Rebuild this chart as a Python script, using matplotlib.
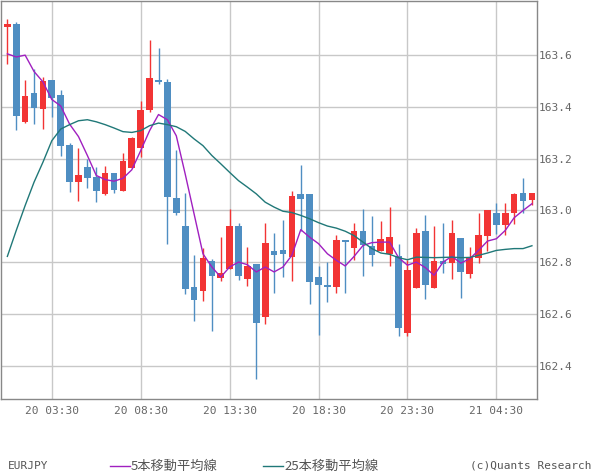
import numpy as np
import matplotlib
matplotlib.use('Agg')
import matplotlib.pyplot as plt
from matplotlib.lines import Line2D

plt.rcParams['font.family'] = ['DejaVu Sans Mono', 'Noto Sans CJK JP']

# EURJPY 30-minute candles, 20 01:00 .. 21 06:30
opens = [163.709, 163.719, 163.343, 163.454, 163.390, 163.504, 163.446, 163.254, 163.109, 163.169,
         163.131, 163.062, 163.146, 163.074, 163.163, 163.240, 163.386, 163.504, 163.496, 163.050,
         162.942, 162.705, 162.690, 162.804, 162.740, 162.774, 162.939, 162.736, 162.792, 162.590,
         162.842, 162.846, 162.821, 163.065, 163.062, 162.742, 162.712, 162.705, 162.885, 162.855,
         162.919, 162.864, 162.844, 162.832, 162.823, 162.528, 162.701, 162.919, 162.701, 162.804,
         162.797, 162.892, 162.755, 162.817, 162.901, 162.992, 162.944, 162.992, 163.069, 163.042]
highs = [163.740, 163.727, 163.504, 163.546, 163.515, 163.504, 163.465, 163.260, 163.240, 163.197,
         163.167, 163.173, 163.146, 163.223, 163.282, 163.423, 163.658, 163.627, 163.508, 163.235,
         163.067, 162.827, 162.856, 162.814, 162.897, 163.004, 162.951, 162.859, 162.792, 162.951,
         162.912, 162.962, 163.077, 163.177, 163.062, 162.786, 162.800, 162.904, 162.885, 162.950,
         163.004, 162.978, 162.958, 163.015, 162.869, 162.808, 162.931, 162.981, 162.942, 162.950,
         162.965, 162.892, 162.858, 162.992, 163.000, 163.030, 163.028, 163.067, 163.124, 163.069]
lows = [163.563, 163.309, 163.336, 163.332, 163.313, 163.359, 163.209, 163.070, 163.036, 163.086,
        163.032, 163.058, 163.067, 163.074, 163.163, 163.205, 163.378, 163.486, 162.870, 162.982,
        162.678, 162.574, 162.651, 162.536, 162.728, 162.774, 162.732, 162.709, 162.351, 162.563,
        162.682, 162.744, 162.728, 162.921, 162.640, 162.520, 162.647, 162.682, 162.682, 162.808,
        162.747, 162.786, 162.844, 162.786, 162.517, 162.517, 162.701, 162.659, 162.701, 162.759,
        162.736, 162.663, 162.740, 162.797, 162.843, 162.908, 162.907, 162.946, 162.990, 163.023]
closes = [163.719, 163.363, 163.442, 163.397, 163.500, 163.432, 163.247, 163.109, 163.136, 163.124,
          163.074, 163.146, 163.078, 163.192, 163.278, 163.389, 163.512, 163.494, 163.051, 162.991,
          162.697, 162.655, 162.815, 162.747, 162.760, 162.942, 162.747, 162.786, 162.567, 162.873,
          162.827, 162.831, 163.054, 163.044, 162.724, 162.713, 162.705, 162.885, 162.878, 162.921,
          162.867, 162.828, 162.889, 162.896, 162.547, 162.769, 162.913, 162.713, 162.804, 162.794,
          162.912, 162.763, 162.819, 162.904, 163.000, 162.944, 162.992, 163.063, 163.038, 163.069]

ma5 = [163.604, 163.592, 163.599, 163.536, 163.496, 163.428, 163.403, 163.333, 163.285, 163.212,
       163.135, 163.119, 163.113, 163.124, 163.157, 163.231, 163.308, 163.370, 163.350, 163.288,
       163.141, 162.987, 162.833, 162.782, 162.743, 162.782, 162.801, 162.791, 162.763, 162.782,
       162.763, 162.782, 162.827, 162.926, 162.897, 162.872, 162.833, 162.808, 162.786, 162.823,
       162.865, 162.876, 162.878, 162.878, 162.818, 162.789, 162.801, 162.780, 162.750, 162.801,
       162.823, 162.797, 162.814, 162.846, 162.882, 162.891, 162.923, 162.972, 163.000, 163.026]
ma25 = [162.823, 162.923, 163.019, 163.109, 163.186, 163.269, 163.314, 163.331, 163.346, 163.350,
        163.342, 163.331, 163.318, 163.304, 163.301, 163.308, 163.327, 163.337, 163.331, 163.323,
        163.305, 163.276, 163.250, 163.212, 163.180, 163.147, 163.115, 163.090, 163.064, 163.032,
        163.013, 162.997, 162.992, 162.981, 162.968, 162.953, 162.940, 162.932, 162.920, 162.903,
        162.878, 162.853, 162.836, 162.831, 162.818, 162.810, 162.820, 162.819, 162.818, 162.819,
        162.820, 162.818, 162.819, 162.827, 162.836, 162.846, 162.850, 162.853, 162.853, 162.864]

tick_pos = [5, 15, 25, 35, 45, 55]
tick_labels = ['20 03:30', '20 08:30', '20 13:30', '20 18:30', '20 23:30', '21 04:30']
yticks = [162.4, 162.6, 162.8, 163.0, 163.2, 163.4, 163.6]

RED = '#f23434'
BLUE = '#4f8ec2'
PURPLE = '#a020c0'
TEAL = '#207878'

o = np.array(opens)
c = np.array(closes)
x = np.arange(len(o))
cols = np.where(c >= o, RED, BLUE)

fig = plt.figure(figsize=(6, 4.75), dpi=100)
ax = fig.add_axes([0.001, 0.16, 0.894, 0.838])

ax.vlines(x, lows, highs, colors=cols, lw=1, zorder=2)
ax.bar(x, np.maximum(np.abs(c - o), 0.005), bottom=np.minimum(o, c), width=0.75,
       color=cols, linewidth=0, zorder=3)
ax.plot(x, ma5, color=PURPLE, lw=1, zorder=4)
ax.plot(x, ma25, color=TEAL, lw=1, zorder=4)

ax.set_xlim(-0.76, 59.57)
ax.set_ylim(162.273, 163.808)
ax.set_xticks(tick_pos, tick_labels)
ax.set_yticks(yticks, [f'{v:.1f}' for v in yticks])
ax.yaxis.tick_right()
ax.tick_params(length=0, labelsize=8, labelcolor='#666666')
ax.tick_params(axis='x', pad=5)
ax.tick_params(axis='y', pad=1)
ax.grid(color='#c8c8c8', lw=1)
ax.set_axisbelow(True)
for s in ax.spines.values():
    s.set_color('#888888')
    s.set_linewidth(1)

# legend row
ly = 9 / 475
fig.text(8 / 600, ly, 'EURJPY', fontsize=8, color='#555555', va='center')
fig.add_artist(Line2D([110 / 600, 130 / 600], [ly, ly], color=PURPLE, lw=1))
fig.text(131 / 600, ly, '5本移動平均線', fontsize=9.5, color='#555555', va='center',
         family=['Noto Sans CJK JP'])
fig.add_artist(Line2D([263 / 600, 283 / 600], [ly, ly], color=TEAL, lw=1))
fig.text(284 / 600, ly, '25本移動平均線', fontsize=9.5, color='#555555', va='center',
         family=['Noto Sans CJK JP'])
fig.text(591 / 600, ly, '(c)Quants Research', fontsize=8, color='#555555', va='center', ha='right')

fig.savefig('out.png', dpi=100)
